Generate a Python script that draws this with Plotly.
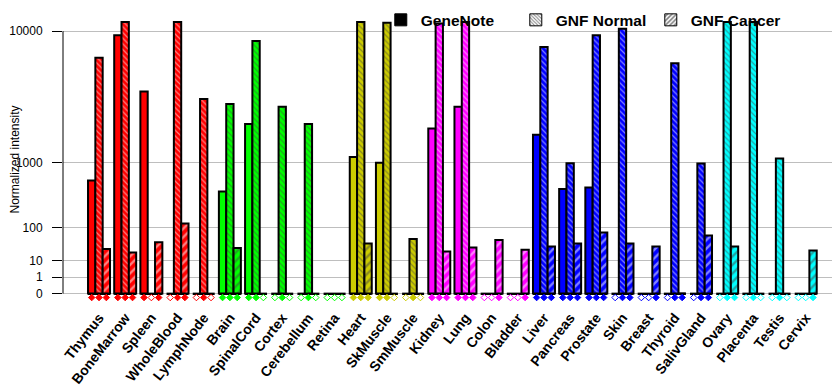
import numpy as np
import plotly.graph_objects as go

categories = ["Thymus", "BoneMarrow", "Spleen", "WholeBlood", "LymphNode",
              "Brain", "SpinalCord", "Cortex", "Cerebellum", "Retina",
              "Heart", "SkMuscle", "SmMuscle",
              "Kidney", "Lung", "Colon", "Bladder",
              "Liver", "Pancreas", "Prostate", "Skin", "Breast", "Thyroid", "SalivGland",
              "Ovary", "Placenta", "Testis", "Cervix"]

group_colors = (["#FF0000"] * 5 + ["#00FF00"] * 5 + ["#CCCC00"] * 3 +
                ["#FF00FF"] * 4 + ["#0000FF"] * 7 + ["#00FFFF"] * 4)

# None = not measured (open diamond); numbers = normalized intensity
genenote = [609, 9500, 4200, None, None,
            433, 2350, None, None, None,
            1140, 990, None,
            2140, 3230, None, None,
            1890, 469, 493, None, None, None, None,
            None, None, None, None]
gnf_normal = [7000, 11200, None, 11200, 3700,
              3400, 8800, 3230, 2350, None,
              11200, 11100, 54,
              11000, 11200, None, None,
              8140, 980, 9480, 10300, None, 6470, 971,
              11200, 11200, 1100, None]
gnf_cancer = [28, 21, 44, 125, None,
              30, None, None, None, None,
              41, None, None,
              23, 31, 51, 26,
              33.5, 41, 79, 41, 33.5, 0, 67,
              33.5, None, None, 25]

series_names = ["GeneNote", "GNF Normal", "GNF Cancer"]
series_values = [genenote, gnf_normal, gnf_cancer]

tick_values = [0, 1, 10, 100, 1000, 10000]
tick_labels = ["0", "1", "10", "100", "1000", "10000"]

EXP = np.log10(2)  # each decade takes twice the height of the previous one


def tr(v):
    return None if v is None else float(v) ** EXP


FONT = "Liberation Sans, Arial, sans-serif"
n = len(categories)
xs = np.arange(n)
W = 0.28
offsets = [-1.5 * W, -0.5 * W, 0.5 * W]
patterns = [dict(shape=""),
            dict(shape="\\", fgcolor="white", fillmode="overlay", size=4, solidity=0.3),
            dict(shape="/", fgcolor="white", fillmode="overlay", size=6, solidity=0.4)]
legend_patterns = [dict(shape=""),
                   dict(shape="\\", fgcolor="black", bgcolor="white", fillmode="overlay", size=3, solidity=0.4),
                   dict(shape="/", fgcolor="black", bgcolor="white", fillmode="overlay", size=4, solidity=0.5)]

fig = go.Figure()

# black baseline segment under every tissue group
fig.add_trace(go.Bar(x=xs, y=[0.12] * n, base=-0.06, width=3 * W, offset=-1.5 * W,
                     marker=dict(color="black", line=dict(width=0)),
                     showlegend=False, hoverinfo="skip"))

for k, (name, vals) in enumerate(zip(series_names, series_values)):
    fig.add_trace(go.Bar(
        x=xs, y=[tr(v) for v in vals], width=W, offset=offsets[k],
        marker=dict(color=group_colors, line=dict(color="black", width=2),
                    pattern=patterns[k]),
        name=name, showlegend=False,
        customdata=[v for v in vals], hovertemplate="%{customdata}<extra>" + name + "</extra>"))

for k, vals in enumerate(series_values):
    fig.add_trace(go.Scatter(
        x=xs + offsets[k] + W / 2, y=[-0.24] * n, mode="markers",
        marker=dict(symbol=["diamond" if v is not None else "diamond-open" for v in vals],
                    color=group_colors, size=5, line=dict(width=1, color=group_colors)),
        showlegend=False, hoverinfo="skip", cliponaxis=False))

for k, name in enumerate(series_names):
    fig.add_trace(go.Bar(
        x=[None], y=[None], name=name,
        marker=dict(color="black" if k == 0 else "white",
                    line=dict(color="black", width=1), pattern=legend_patterns[k])))

Y_RANGE = [-0.45, 16.8]

# the page body adds an 8px offset, so the figure is drawn 8px smaller
fig.update_layout(
    width=832, height=377,
    margin=dict(l=55, r=0, t=10, b=84, autoexpand=False),
    paper_bgcolor="white", plot_bgcolor="white",
    barmode="overlay",
    font=dict(family=FONT, color="black", size=12),
    legend=dict(orientation="h", x=0.409, y=0.992, xanchor="left", yanchor="middle",
                font=dict(family=FONT, size=15.5, color="black", weight="bold"),
                entrywidth=90, entrywidthmode="pixels",
                bgcolor="rgba(0,0,0,0)", itemwidth=30, traceorder="normal"),
    xaxis=dict(range=[-1.376, 28.31], tickvals=list(xs), ticktext=categories,
               tickangle=-52, showgrid=False, zeroline=False, showline=False,
               ticks="outside", ticklen=2, tickcolor="rgba(0,0,0,0)",
               tickfont=dict(family=FONT, size=14, weight="bold", color="black")),
    yaxis=dict(range=Y_RANGE, tickvals=[v ** EXP for v in tick_values], ticktext=tick_labels,
               showgrid=True, gridcolor="#BEBEBE", gridwidth=1, zeroline=False,
               showline=False,
               ticks="outside", ticklen=10, tickcolor="black", tickwidth=1,
               ticklabelstandoff=7,
               tickfont=dict(family=FONT, size=12, color="black"),
               title=dict(text="Normalized intensity", standoff=14,
                          font=dict(family=FONT, size=12, color="black"))),
    shapes=[dict(type="line", xref="paper", yref="y", x0=0, x1=0,
                 y0=0, y1=max(tick_values) ** EXP,
                 line=dict(color="black", width=1), layer="above")],
)

fig.write_html("out.html")
